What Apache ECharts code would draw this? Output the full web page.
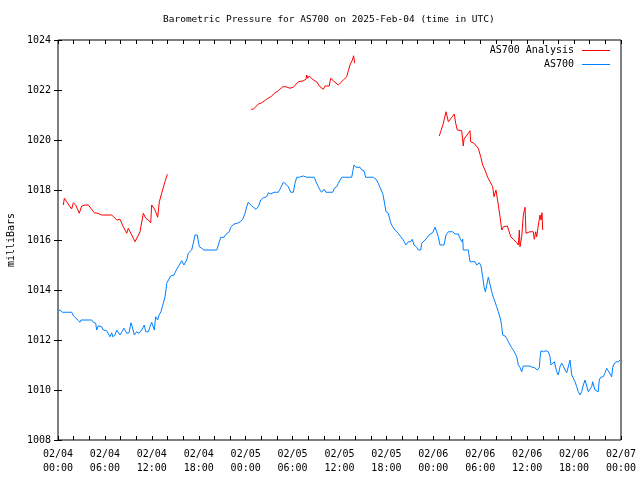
<!DOCTYPE html>
<html>
<head>
<meta charset="utf-8">
<script src="https://cdn.jsdelivr.net/npm/echarts@6/dist/echarts.min.js"></script>
<style>html,body{margin:0;padding:0;background:#fff}#c{width:640px;height:480px}</style>
</head>
<body>
<div id="c"></div>
<script>
// Time is given in hours since 2025-02-04 00:00 UTC
const dateLabels = ['02/04','02/04','02/04','02/04','02/05','02/05','02/05','02/05','02/06','02/06','02/06','02/06','02/07'];
const timeLabels = ['00:00','06:00','12:00','18:00','00:00','06:00','12:00','18:00','00:00','06:00','12:00','18:00','00:00'];

const blueHours = [0,0.26,0.55,1.75,1.96,2.26,2.52,2.81,2.94,4.31,4.51,4.82,4.95,5.15,5.59,5.79,6.23,6.43,6.65,6.87,7.0,7.29,7.51,7.71,7.93,8.15,8.44,8.66,8.79,9.08,9.34,9.5,9.76,10.06,10.36,10.7,11.04,11.22,11.55,11.77,11.98,12.32,12.49,12.75,12.92,13.17,13.34,13.47,13.68,13.81,13.9,14.11,14.41,14.83,15.18,15.51,15.82,16.11,16.46,16.66,17.1,17.3,17.52,17.81,18.07,18.38,18.67,20.3,20.5,20.81,21.23,21.49,21.91,22.09,22.51,22.93,23.28,23.62,23.92,24.13,24.34,24.64,24.98,25.32,25.62,25.92,26.26,26.69,26.9,27.2,27.62,28.17,28.39,28.61,28.81,29.16,29.45,29.76,30.09,30.31,30.53,30.86,31.04,31.37,31.59,31.81,32.78,33.0,33.29,33.51,33.72,34.02,34.27,35.13,35.34,35.64,35.85,36.06,36.28,37.56,37.69,37.85,38.11,38.62,38.84,39.13,39.35,40.32,40.67,40.96,41.18,41.52,41.69,41.95,42.24,42.55,42.8,43.1,43.52,43.83,44.16,44.51,44.8,45.11,45.31,45.53,45.87,46.08,46.39,46.51,46.72,46.94,47.23,47.58,47.92,48.21,48.43,48.64,48.85,49.36,49.62,49.92,50.48,50.77,51.19,51.41,51.63,51.76,51.83,52.47,52.69,53.33,53.55,53.88,54.1,54.31,54.48,54.65,54.83,55.03,55.25,55.47,55.67,55.89,56.1,56.31,56.62,56.75,56.87,57.17,57.38,57.59,57.81,58.02,58.23,58.45,58.66,58.87,59.08,59.3,59.51,59.94,60.15,60.36,60.62,60.88,61.13,61.3,61.43,61.56,61.64,61.77,62.07,62.41,62.71,62.92,63.05,63.27,63.47,63.65,63.78,63.98,64.2,64.42,64.62,64.84,65.06,65.26,65.48,65.7,65.9,66.12,66.34,66.54,66.76,66.97,67.18,67.4,67.61,67.82,68.03,68.25,68.38,68.67,68.89,69.09,69.22,69.4,69.73,69.96,70.17,70.38,70.6,70.81,70.94,71.11,71.36,71.65,71.88];
const bluePressure = [1013.17,1013.2,1013.11,1013.11,1012.97,1012.89,1012.8,1012.71,1012.8,1012.8,1012.71,1012.67,1012.4,1012.57,1012.53,1012.4,1012.37,1012.29,1012.13,1012.29,1012.13,1012.2,1012.4,1012.47,1012.2,1012.2,1012.47,1012.53,1012.27,1012.29,1012.69,1012.53,1012.2,1012.33,1012.27,1012.4,1012.6,1012.33,1012.33,1012.53,1012.71,1012.4,1012.93,1012.8,1013.0,1013.13,1013.33,1013.47,1013.73,1014.0,1014.27,1014.33,1014.56,1014.6,1014.83,1015.0,1015.17,1015.0,1015.2,1015.47,1015.6,1015.87,1016.2,1016.2,1015.73,1015.67,1015.6,1015.6,1015.8,1016.11,1016.11,1016.23,1016.33,1016.51,1016.64,1016.67,1016.73,1016.83,1017.07,1017.33,1017.51,1017.4,1017.31,1017.23,1017.33,1017.6,1017.69,1017.73,1017.89,1017.84,1017.91,1017.91,1018.03,1018.07,1018.31,1018.23,1018.13,1017.91,1017.91,1018.27,1018.51,1018.51,1018.44,1018.56,1018.64,1018.51,1018.51,1018.33,1018.13,1018.0,1017.91,1018.03,1017.91,1017.91,1018.07,1018.13,1018.27,1018.33,1018.51,1018.51,1018.73,1019.0,1018.91,1018.91,1018.8,1018.77,1018.51,1018.51,1018.43,1018.27,1018.1,1017.87,1017.6,1017.13,1017.07,1016.69,1016.53,1016.4,1016.27,1016.13,1016.0,1015.8,1015.93,1015.93,1016.03,1015.8,1015.71,1015.6,1015.6,1015.87,1015.8,1016.0,1016.11,1016.24,1016.29,1016.51,1016.33,1016.13,1015.8,1015.8,1016.2,1016.33,1016.33,1016.24,1016.24,1016.07,1015.93,1016.03,1015.6,1015.6,1015.13,1015.13,1015.0,1015.09,1014.96,1014.53,1014.13,1013.93,1014.2,1014.51,1014.43,1013.93,1013.71,1013.53,1013.33,1013.13,1012.8,1012.53,1012.2,1012.16,1012.07,1011.93,1011.87,1011.69,1011.6,1011.47,1011.33,1011.0,1010.91,1010.73,1010.96,1010.96,1010.91,1010.96,1010.91,1010.91,1010.96,1010.8,1010.73,1010.91,1011.27,1011.57,1011.53,1011.57,1011.53,1011.33,1011.0,1011.07,1011.13,1011.2,1010.73,1010.6,1010.93,1011.07,1010.96,1010.8,1010.69,1010.69,1011.2,1010.6,1010.53,1010.33,1010.13,1009.93,1009.8,1009.93,1010.2,1010.4,1010.33,1009.93,1009.93,1010.13,1010.33,1010.0,1009.93,1009.93,1010.4,1010.51,1010.53,1010.69,1010.87,1010.77,1010.64,1010.53,1010.91,1011.04,1011.13,1011.13,1011.2];

const redHours1 = [0.68,0.81,1.11,1.53,1.75,1.96,2.26,2.72,3.03,3.45,3.88,4.64,5.08,5.59,6.87,7.07,7.51,7.93,8.35,8.79,8.99,9.43,9.85,10.06,10.49,10.91,11.22,11.55,11.86,11.98,12.41,12.75,12.96,13.26,13.68,13.98];
const redPressure1 = [1017.4,1017.67,1017.53,1017.33,1017.24,1017.49,1017.4,1017.07,1017.36,1017.4,1017.4,1017.09,1017.07,1017.0,1017.0,1017.07,1016.8,1016.83,1016.53,1016.27,1016.47,1016.2,1015.93,1016.0,1016.33,1017.07,1016.87,1016.8,1016.69,1017.4,1017.2,1016.91,1017.53,1017.87,1018.33,1018.63];
const redHours2 = [24.68,24.98,25.62,26.05,26.69,27.33,27.75,28.17,28.74,29.16,29.67,30.09,30.73,31.37,31.72,31.81,31.93,32.14,32.65,33.08,33.51,33.72,33.93,34.15,34.7,34.78,34.88,35.21,35.85,36.06,36.49,36.92,37.13,37.34,37.64,37.81,37.94];
const redPressure2 = [1021.23,1021.23,1021.44,1021.49,1021.63,1021.76,1021.89,1021.97,1022.13,1022.13,1022.07,1022.11,1022.33,1022.37,1022.43,1022.6,1022.47,1022.56,1022.4,1022.33,1022.13,1022.07,1022.03,1022.16,1022.16,1022.33,1022.47,1022.37,1022.2,1022.2,1022.4,1022.53,1022.77,1023.0,1023.2,1023.37,1023.07];
const redHours3 = [48.76,48.94,49.28,49.62,49.71,49.92,50.35,50.68,50.86,51.07,51.63,51.83,51.92,52.69,52.78,53.2,53.75,54.06,54.31,54.61,54.83,54.95,55.25,55.59,55.76,56.01,56.31,56.53,56.75,56.96,57.47,57.72,57.9,58.23,58.66,58.87,59.0,59.08,59.3,59.51,59.73,59.85,60.36,60.78,60.91,61.09,61.22,61.43,61.64,61.77,61.9,61.99];
const redPressure3 = [1020.16,1020.33,1020.67,1021.13,1021.2,1020.73,1020.91,1021.04,1020.67,1020.4,1020.37,1019.76,1020.03,1020.37,1019.93,1019.87,1019.67,1019.33,1019.0,1018.8,1018.87,1018.51,1018.33,1018.13,1017.73,1018.0,1017.4,1016.93,1016.4,1016.53,1016.56,1016.53,1016.13,1016.03,1015.89,1015.8,1016.4,1015.73,1016.13,1017.0,1017.31,1016.27,1016.33,1016.33,1016.03,1016.33,1016.13,1016.6,1017.0,1016.8,1017.09,1016.4];

function pairs(h, v) { return h.map((x, i) => [x, v[i]]); }
const blueData = pairs(blueHours, bluePressure);
const redData = [].concat(
  pairs(redHours1, redPressure1), [[19, null]],
  pairs(redHours2, redPressure2), [[43, null]],
  pairs(redHours3, redPressure3)
);

const FONT = 'DejaVu Sans Mono';
const chart = echarts.init(document.getElementById('c'), null, {renderer: 'canvas'});
const xBase = {
  type: 'value', min: 0, max: 72, interval: 6,
  axisLine: {show: false},
  axisTick: {show: true, inside: true, length: 4, lineStyle: {color: '#000'}},
  minorTick: {show: true, splitNumber: 3, length: 4, lineStyle: {color: '#000'}},
  splitLine: {show: false}
};
const yBase = {
  type: 'value', min: 1008, max: 1024, interval: 2,
  axisLine: {show: false},
  axisTick: {show: true, inside: true, length: 4, lineStyle: {color: '#000'}},
  splitLine: {show: false}
};
chart.setOption({
  animation: false,
  backgroundColor: '#fff',
  title: {
    text: 'Barometric Pressure for AS700 on 2025-Feb-04 (time in UTC)',
    left: 163, top: 15, padding: 0,
    textStyle: {fontFamily: FONT, fontSize: 9.5, fontWeight: 'normal', color: '#000'}
  },
  legend: {
    orient: 'vertical', right: 30, top: 45, align: 'right', padding: 0,
    itemWidth: 28, itemHeight: 1, itemGap: 3, icon: 'rect',
    textStyle: {fontFamily: FONT, fontSize: 10, color: '#000', padding: [0, 3, 0, 0], lineHeight: 11},
    data: ['AS700 Analysis', 'AS700']
  },
  grid: {left: 58, right: 19, top: 40, bottom: 40, outerBoundsMode: 'none', containLabel: false,
         show: true, borderColor: '#000', borderWidth: 1, backgroundColor: 'transparent'},
  xAxis: [
    Object.assign({}, xBase, {
      position: 'bottom',
      axisLabel: {
        fontFamily: FONT, fontSize: 10, color: '#000', margin: 7, lineHeight: 14,
        formatter: v => dateLabels[Math.round(v / 6)] + '\n' + timeLabels[Math.round(v / 6)]
      }
    }),
    Object.assign({}, xBase, {position: 'top', axisLabel: {show: false}})
  ],
  yAxis: [
    Object.assign({}, yBase, {
      position: 'left',
      name: 'milliBars', nameLocation: 'middle', nameGap: 41, nameRotate: 90,
      nameTextStyle: {fontFamily: FONT, fontSize: 10, color: '#000'},
      axisLabel: {fontFamily: FONT, fontSize: 10, color: '#000', margin: 7, formatter: v => String(v)}
    }),
    Object.assign({}, yBase, {position: 'right', axisLabel: {show: false}})
  ],
  series: [
    {
      name: 'AS700 Analysis', type: 'line', data: redData, connectNulls: false,
      symbol: 'none', color: '#ff0000', lineStyle: {width: 1, color: '#ff0000'}
    },
    {
      name: 'AS700', type: 'line', data: blueData,
      symbol: 'none', color: '#0080ff', lineStyle: {width: 1, color: '#0080ff'}
    }
  ]
});
</script>
</body>
</html>
